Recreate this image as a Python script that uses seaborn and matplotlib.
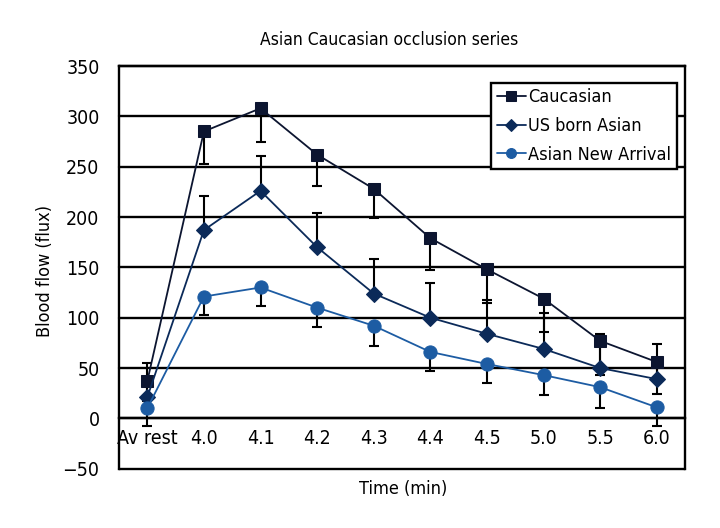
import numpy as np
import pandas as pd
import matplotlib
matplotlib.use('Agg')
import matplotlib.pyplot as plt
from matplotlib.ticker import FixedLocator
import seaborn as sns

# ─── Données ────────────────────────────────────────────────────────────────
times = ['Av rest', '4.0', '4.1', '4.2', '4.3', '4.4', '4.5', '5.0', '5.5', '6.0']
series = ['Caucasian', 'US born Asian', 'Asian New Arrival']

caucasian = [37, 285, 308, 262, 228, 179, 148, 119, 77, 56]
us_born = [21, 187, 226, 170, 124, 100, 84, 69, 50, 39]
new_arrival = [10, 121, 130, 110, 92, 66, 54, 43, 31, 11]

# barres d'erreur (un seul côté, comme dans l'original)
caucasian_err_low = [20, 32, 33, 31, 29, 32, 33, 33, 34, 32]
us_born_err_high = [34, 34, 35, 34, 34, 34, 34, 36, 34, 35]
new_arrival_err_low = [18, 18, 18, 19, 20, 19, 19, 20, 21, 19]

COLORS = {'Caucasian': '#0c1530', 'US born Asian': '#0b2a59', 'Asian New Arrival': '#1d5ca3'}
MARKERS = {'Caucasian': 's', 'US born Asian': 'D', 'Asian New Arrival': 'o'}
SIZES = {'Caucasian': 9, 'US born Asian': 8.5, 'Asian New Arrival': 9.5}

values = {'Caucasian': caucasian, 'US born Asian': us_born, 'Asian New Arrival': new_arrival}
df = pd.concat([pd.DataFrame({'x': np.arange(len(times)), 'flux': v, 'group': s})
                for s, v in values.items()], ignore_index=True)

# ─── Figure ────────────────────────────────────────────────────────────────
sns.set_style('white')
plt.rcParams['font.family'] = ['DejaVu Sans']
plt.rcParams['font.stretch'] = 'condensed'
for k in ['text.color', 'axes.labelcolor', 'xtick.color', 'ytick.color']:
    plt.rcParams[k] = 'black'
FS_TICK = 14
FS = 13

fig = plt.figure(figsize=(7.2, 5.28), dpi=100)
ax = fig.add_axes([119 / 720, 1 - 468.7 / 528, 566 / 720, 402.7 / 528])

for y in range(-50, 351, 50):
    ax.axhline(y, color='black', lw=1.7, zorder=1, clip_on=False)

# barres d'erreur
x = np.arange(len(times))
ekw = dict(fmt='none', ecolor='black', elinewidth=1.5, capsize=3.4, capthick=1.5, zorder=2)
ax.errorbar(x, caucasian, yerr=[caucasian_err_low, np.zeros(len(x))], **ekw)
ax.errorbar(x, us_born, yerr=[np.zeros(len(x)), us_born_err_high], **ekw)
ax.errorbar(x, new_arrival, yerr=[new_arrival_err_low, np.zeros(len(x))], **ekw)

for s in series:
    sns.lineplot(data=df[df['group'] == s], x='x', y='flux', ax=ax,
                 color=COLORS[s], marker=MARKERS[s], markersize=SIZES[s],
                 markeredgecolor=COLORS[s], linewidth=1.3, label=s, zorder=3)

ax.set_xlim(-0.5, len(times) - 0.5)
ax.set_ylim(-50, 350)
ax.set_yticks(range(-50, 351, 50))
ax.set_yticklabels(['\u221250' if t < 0 else str(t) for t in range(-50, 351, 50)])
ax.set_xticks(x)
ax.set_xticklabels(times)
ax.xaxis.set_minor_locator(FixedLocator(np.arange(0.5, len(times) - 1, 1)))

ax.spines['bottom'].set_position(('data', 0))
for sp in ax.spines.values():
    sp.set_color('black')
    sp.set_linewidth(1.7)

ax.tick_params(axis='x', which='major', length=0, pad=8, labelsize=FS_TICK)
ax.tick_params(axis='x', which='minor', direction='out', length=6, width=1.5, color='black')
ax.tick_params(axis='y', direction='out', length=11, width=1.5, labelsize=FS_TICK, pad=3)

ax.set_xlabel('')
ax.set_ylabel('')
fig.text(45 / 720, 1 - 271 / 528, 'Blood flow (flux)', rotation=90, ha='center', va='center', fontsize=FS)
fig.text(403 / 720, 1 - 489 / 528, 'Time (min)', ha='center', va='center', fontsize=FS)
fig.text(389 / 720, 1 - 40 / 528, 'Asian Caucasian occlusion series', ha='center', va='center', fontsize=FS - 0.5)

leg = ax.legend(loc='upper right', bbox_to_anchor=(676.7 / 566 - 119 / 566, (468.7 - 82.7) / 402.7),
                frameon=True, fancybox=False, edgecolor='black', fontsize=FS, handlelength=1.6,
                handletextpad=0.15, borderpad=0.3, labelspacing=0.6, borderaxespad=0,
                markerscale=0.75)
leg.get_frame().set_linewidth(1.7)
leg.get_frame().set_alpha(1)

plt.savefig('out.png', dpi=100)
plt.close()
